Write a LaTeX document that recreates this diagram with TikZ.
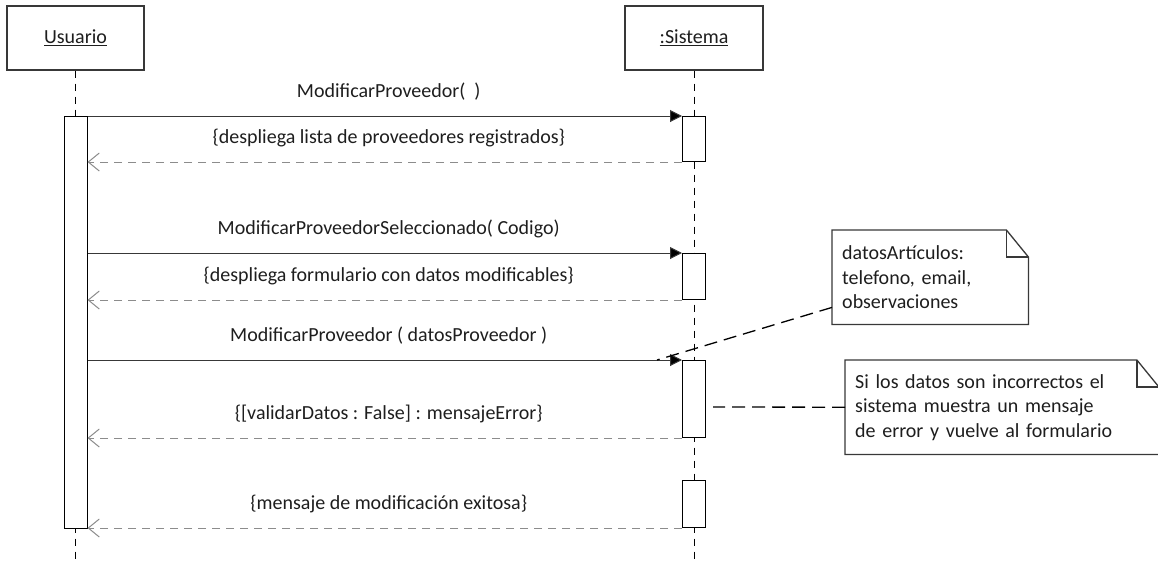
\documentclass[tikz,border=0pt]{standalone}
\usepackage{fontspec}
\setmainfont{Carlito}
\usetikzlibrary{positioning,arrows.meta}

\definecolor{linegray}{HTML}{383838}
\definecolor{retgray}{HTML}{8C8C8C}
\definecolor{textdark}{HTML}{1E1E1E}

% note outline with folded corner
\newcommand\foldnote[1]{%
  \draw[notepen] (#1.north west) -- ([xshift=-22pt]#1.north east)
    -- ([yshift=-27pt]#1.north east) -- (#1.south east) -- (#1.south west) -- cycle;
  \draw[notepen] ([xshift=-22pt]#1.north east) |- ([yshift=-27pt]#1.north east);}

\begin{document}
\begin{tikzpicture}[x=1pt,y=-1pt,
  font=\fontsize{20}{24.5}\selectfont, text=textdark,
  actor/.style={draw=linegray, line width=1.3pt, fill=white,%
    minimum width=137pt, minimum height=64pt},
  actbar/.style={draw=black, line width=1pt, fill=white,%
    minimum width=23pt, anchor=north, inner sep=0pt},
  lifeline/.style={black, line width=1pt, dash pattern=on 7pt off 6pt},
  callmsg/.style={linegray, line width=1pt,%
    -{Triangle[length=12pt,width=12pt,fill=black]}},
  retmsg/.style={retgray, line width=1pt, dash pattern=on 8pt off 6pt,%
    -{Straight Barb[length=11pt,width=18pt]}},
  msglabel/.style={midway, anchor=base, yshift=19pt, xshift=4pt, text=textdark},
  notebox/.style={fill=white, anchor=north west, align=left,%
    inner xsep=10pt, inner ysep=0pt},
  notepen/.style={draw=linegray, line width=1.3pt},
  notelink/.style={black, line width=1.3pt, dash pattern=on 13pt off 7pt}]

  \useasboundingbox (0,0) rectangle (1158,563);

  % participants
  \node[actor] (usr) at (75.5,38) {\underline{Usuario}};
  \node[actor, minimum width=138pt] (sis) at (694,38) {\underline{:Sistema}};

  \coordinate (usrend) at (usr.south |- 0,563);
  \coordinate (sisend) at (sis.south |- 0,563);

  % lifelines
  \draw[lifeline] (usr.south) -- (usrend);
  \draw[lifeline] (sis.south) -- (sisend);

  % activations
  \node[actbar, minimum height=412pt] (ua) at (75.5,116) {};
  \node[actbar, minimum height=45pt] (sa1) at (694,116) {};
  \node[actbar, minimum height=46pt] (sa2) at (694,253) {};
  \node[actbar, minimum height=77pt] (sa3) at (694,360) {};
  \node[actbar, minimum height=47pt] (sa4) at (694,480) {};

  % messages
  \draw[callmsg] (ua.east |- sa1.north) -- (sa1.north west)
    node[msglabel] {ModificarProveedor( \ )};
  \draw[retmsg] (sa1.south west) -- (ua.east |- sa1.south)
    node[msglabel] {\{despliega lista de proveedores registrados\}};
  \draw[callmsg] (ua.east |- sa2.north) -- (sa2.north west)
    node[msglabel] {ModificarProveedorSeleccionado( Codigo)};
  \draw[retmsg] (sa2.south west) -- (ua.east |- sa2.south)
    node[msglabel] {\{despliega formulario con datos modificables\}};
  \draw[callmsg] (ua.east |- sa3.north) -- (sa3.north west)
    node[msglabel] {ModificarProveedor ( datosProveedor )};
  \draw[retmsg] (sa3.south west) -- (ua.east |- sa3.south)
    node[msglabel] {\{[validarDatos : False] : mensajeError\}};
  \draw[retmsg] (sa4.south west) -- (ua.east |- sa4.south)
    node[msglabel] {\{mensaje de modificación exitosa\}};

  % notes
  \node[notebox, text width=176pt, minimum height=94pt] (nart) at (832,230)
    {datosArtículos:\\telefono, email,\\observaciones};
  \foldnote{nart}
  \node[notebox, text width=293.5pt, minimum height=94pt] (nerr) at (845,360)
    {Si los datos son incorrectos el\\sistema muestra un mensaje\\de error y vuelve al formulario};
  \foldnote{nerr}

  \coordinate (artend) at (657,360);
  \coordinate (errend) at (713,407);
  \draw[notelink] ([yshift=17pt]nart.south west) -- (artend);
  \draw[notelink] (nerr.west) -- (errend);
\end{tikzpicture}
\end{document}
